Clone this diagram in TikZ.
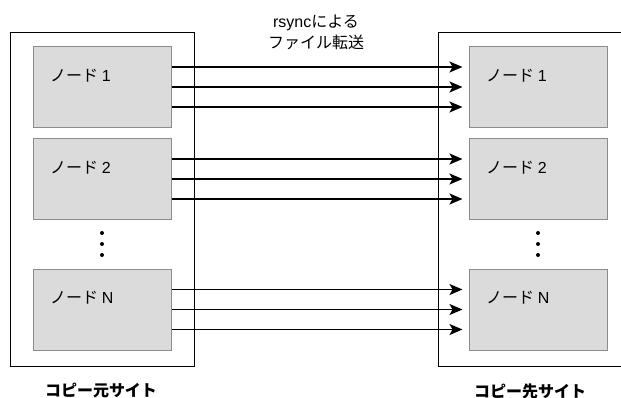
\documentclass[tikz,border=0pt]{standalone}
\usepackage{fontspec}
\setmainfont{Noto Sans CJK JP}
\newfontfamily\latn{Liberation Sans}
\usetikzlibrary{arrows.meta,calc}
\begin{document}
\begin{tikzpicture}[x=1pt,y=-1pt,
  site/.style={draw=black,line width=0.9pt},
  nodebox/.style={draw=black!45,fill=black!14,line width=1pt,minimum width=138pt,minimum height=81pt,inner sep=0pt},
  nodelabel/.style={anchor=west,font=\fontsize{16}{18}\selectfont,inner sep=0pt},
  sitelabel/.style={font=\fontsize{16}{18}\selectfont\bfseries,inner sep=0pt},
  xfer/.style={line width=1.5pt,-{Stealth[length=13pt,width=11pt,inset=3pt]},shorten >=6pt},
  dot/.style={circle,fill=black,inner sep=0pt,minimum size=4pt}]
\useasboundingbox (0,0) rectangle (621,398);
% source and destination sites
\draw[site] (10,32) rectangle (194,366);
\draw[site] (625,32) -- (438,32) -- (438,366) -- (625,366);
% nodes in each site
\node[nodebox] (s1) at (102,87) {};
\node[nodebox] (s2) at (102,179) {};
\node[nodebox] (sn) at (102,309.5) {};
\node[nodebox] (d1) at (538,87) {};
\node[nodebox] (d2) at (538,179) {};
\node[nodebox] (dn) at (538,309.5) {};
\node[nodelabel] (s1t) at (50,76) {ノード {\latn 1}};
\node[nodelabel] (s2t) at (50,168) {ノード {\latn 2}};
\node[nodelabel] (snt) at (50,298) {ノード {\latn N}};
\node[nodelabel] (d1t) at (486,76) {ノード {\latn 1}};
\node[nodelabel] (d2t) at (486,168) {ノード {\latn 2}};
\node[nodelabel] (dnt) at (486,298) {ノード {\latn N}};
% ellipsis between node 2 and node N
\foreach \y [count=\i] in {233,244,255}{
  \node[dot] (sd\i) at (102,\y) {};
  \node[dot] (dd\i) at (538,\y) {};
}
% transfer arrows
\foreach \a/\b in {s1/d1,s2/d2,sn/dn}{
  \foreach \o in {-20,0,20}{
    \draw[xfer] ($(\a.east)+(0,\o)$) -- ($(\b.west)+(0,\o)$);
  }
}
% labels
\node[font=\fontsize{16}{21}\selectfont,align=center,inner sep=0pt] (rs) at (316,32) {{\latn rsync}による\\ファイル転送};
\node[sitelabel] (srcl) at (101,391) {コピー元サイト};
\node[sitelabel] (dstl) at (530,391) {コピー先サイト};
\end{tikzpicture}
\end{document}
